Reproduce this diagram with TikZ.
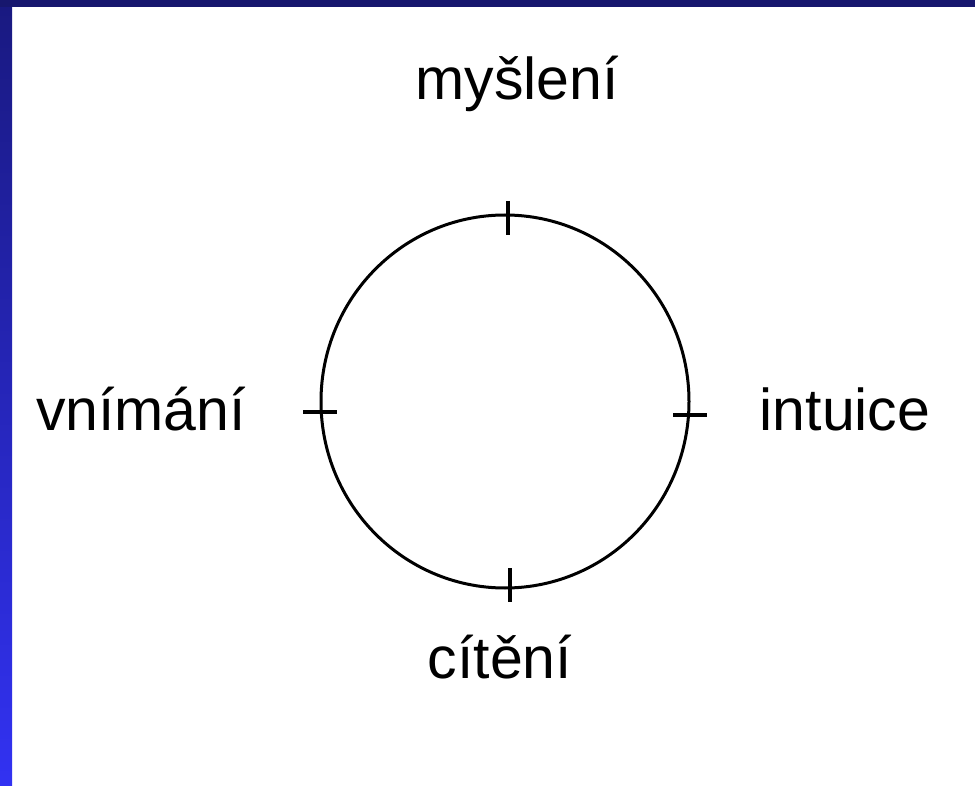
\documentclass[tikz,border=0pt]{standalone}
\usepackage{fontspec}
\setmainfont{Liberation Sans}
\definecolor{bandtop}{HTML}{17176E}
\definecolor{stripTop}{HTML}{191980}
\definecolor{stripBot}{HTML}{3232F2}
\begin{document}
\begin{tikzpicture}[x=1pt,y=-1pt,
  lbl/.style={anchor=base,inner sep=0pt,font=\fontsize{59}{60}\selectfont},
  tick/.style={line width=3.2pt},
  ring/.style={line width=3pt}]
\useasboundingbox (0,0) rectangle (975,786);
\fill[white] (0,0) rectangle (975,786);
\shade[top color=stripTop,bottom color=stripBot] (0,0) rectangle (12,786);
\fill[bandtop] (0,0) rectangle (975,7);
% circle
\draw[ring] (505,401.5) ellipse [x radius=184, y radius=186.5];
% ticks
\coordinate (t1) at (508,201); \coordinate (t2) at (508,235);
\coordinate (b1) at (510,568); \coordinate (b2) at (510,602);
\coordinate (l1) at (303,412); \coordinate (l2) at (337,412);
\coordinate (r1) at (673,415); \coordinate (r2) at (707,415);
\draw[tick] (t1) -- (t2);
\draw[tick] (b1) -- (b2);
\draw[tick] (l1) -- (l2);
\draw[tick] (r1) -- (r2);
% labels
\node[lbl] (top) at (517,100) {myšlení};
\node[lbl] (left) at (141,430) {vnímání};
\node[lbl] (right) at (845,430) {intuice};
\node[lbl] (bottom) at (500,678) {cítění};
\end{tikzpicture}
\end{document}
